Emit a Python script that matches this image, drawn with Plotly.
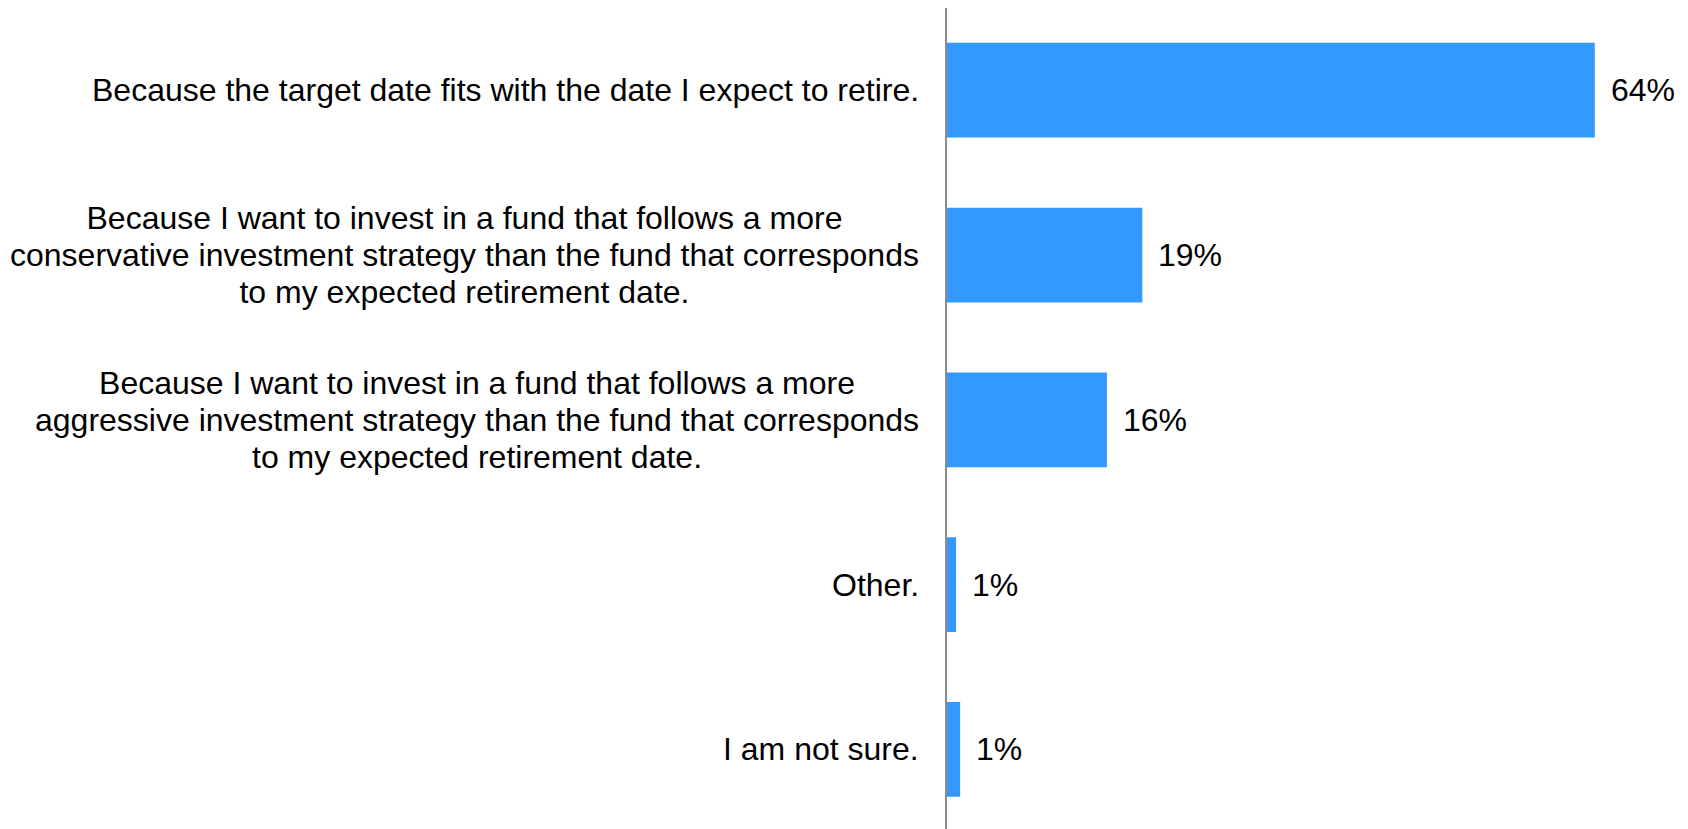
import plotly.graph_objects as go

categories = [
    "Because the target date fits with the date I expect to retire.",
    "Because I want to invest in a fund that follows a more<br>conservative investment strategy than the fund that corresponds<br>to my expected retirement date.",
    "Because I want to invest in a fund that follows a more<br>aggressive investment strategy than the fund that corresponds<br>to my expected retirement date.",
    "Other.",
    "I am not sure.",
]
values = [64.0, 19.3, 15.8, 0.9, 1.3]
value_labels = ["64%", "19%", "16%", "1%", "1%"]

BAR_COLOR = "#3399ff"
FONT = "Liberation Sans, Arial, sans-serif"
TEXT_SIZE = 32
LINE_BASE = 28.5  # controls the line spacing (1.3 x this)

fig = go.Figure()
fig.add_trace(go.Bar(
    x=values,
    y=categories,
    orientation="h",
    marker=dict(color=BAR_COLOR, line=dict(width=0)),
    hoverinfo="skip",
))

# category labels, centre-aligned multi-line text right of the axis
for c in categories:
    lines = c.split("<br>")
    txt = "<br>".join(
        f'<span style="font-size:{TEXT_SIZE}px">{ln}</span>' for ln in lines
    )
    fig.add_annotation(
        x=0, y=c, xref="paper", yref="y",
        text=txt, showarrow=False, align="center",
        xanchor="right", yanchor="middle", xshift=-26,
        font=dict(family=FONT, size=LINE_BASE, color="#000000"),
    )

# value labels
for v, c, t in zip(values, categories, value_labels):
    fig.add_annotation(
        x=v, y=c, xref="x", yref="y",
        text=t, showarrow=False,
        xanchor="left", yanchor="middle", xshift=14,
        font=dict(family=FONT, size=TEXT_SIZE, color="#000000"),
    )

fig.update_layout(
    width=1688, height=829,
    margin=dict(l=939, r=0, t=0, b=0),
    paper_bgcolor="white", plot_bgcolor="white",
    bargap=0.425,
    showlegend=False,
    font=dict(family=FONT, size=TEXT_SIZE, color="#000000"),
)
fig.update_xaxes(
    range=[0, 74.0], visible=False, showgrid=False, zeroline=False,
)
fig.update_yaxes(
    type="category",
    range=[4.531, -0.499],
    showline=True, linecolor="#8c8c8c", linewidth=2,
    showgrid=False, zeroline=False,
    ticks="", showticklabels=False,
)

fig.write_html("out.html")
